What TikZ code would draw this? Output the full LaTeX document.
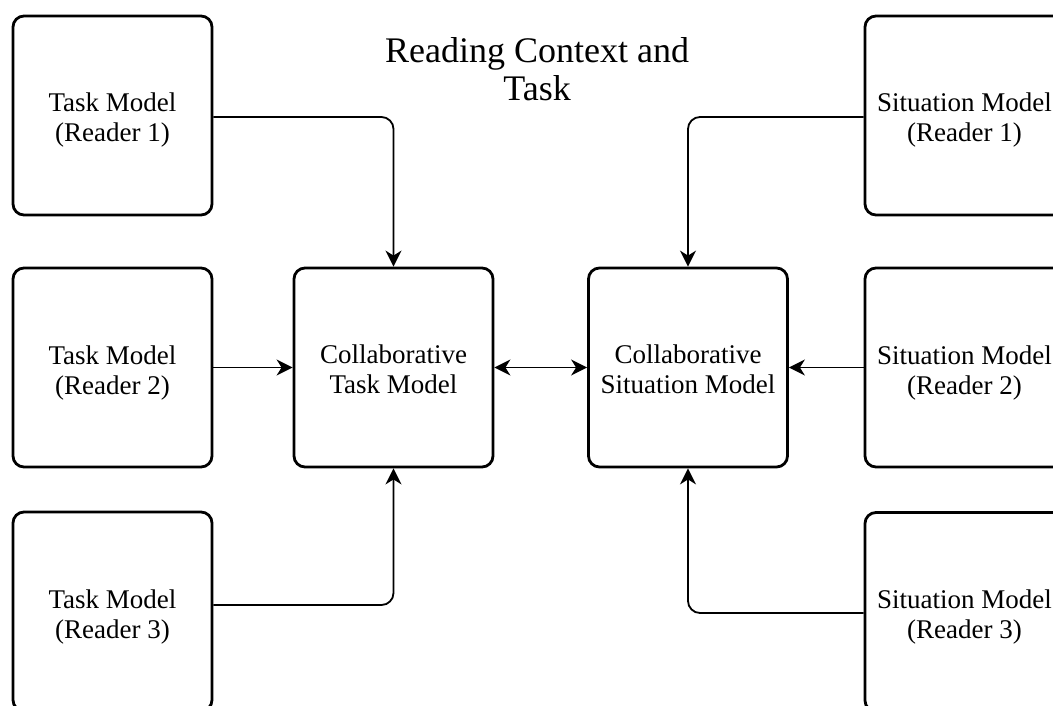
\documentclass[tikz,border=0pt]{standalone}
\usepackage{fontspec}
\setmainfont{Liberation Serif}
\usetikzlibrary{arrows.meta}
\begin{document}
\begin{tikzpicture}[x=1pt,y=-1pt,
  box/.style={draw, line width=2.8pt, rounded corners=11pt, minimum width=199pt, minimum height=199pt, inner sep=0pt},
  lab/.style={font=\fontsize{27}{30}\selectfont, align=center, inner sep=0pt},
  conn/.style={line width=1.8pt, rounded corners=12pt, -{Stealth[length=16pt,width=16pt,inset=5pt]}}]
\useasboundingbox (0,0) rectangle (1053,705);
\clip (0,0) rectangle (1053,705);
\node[box, label={[lab,yshift=-5pt]center:{Task Model\\(Reader 1)}}] (l1) at (112.5,115.5) {};
\node[box, label={[lab,yshift=-5pt]center:{Task Model\\(Reader 2)}}] (l2) at (112.5,367.5) {};
\node[box, label={[lab,yshift=-5pt]center:{Task Model\\(Reader 3)}}] (l3) at (112.5,611.5) {};
\node[box, label={[lab,yshift=-2pt]center:{Collaborative\\Task Model}}] (c1) at (393.5,367.5) {};
\node[box, label={[lab,yshift=-2pt]center:{Collaborative\\Situation Model}}] (c2) at (688,367.5) {};
\node[box, label={[lab,yshift=-5pt]center:{Situation Model\\(Reader 1)}}] (r1) at (964.5,115.5) {};
\node[box, label={[lab,yshift=-5pt]center:{Situation Model\\(Reader 2)}}] (r2) at (964.5,367.5) {};
\node[box, label={[lab,yshift=-5pt]center:{Situation Model\\(Reader 3)}}] (r3) at (964.5,612) {};
\node[font=\fontsize{36}{38}\selectfont, align=center] (title) at (537,69) {Reading Context and\\Task};
\draw[conn] ([yshift=-1.5pt]l1.east) -| (c1.north);
\draw[conn] (l2.east) -- (c1.west);
\draw[conn] ([yshift=6.5pt]l3.east) -| (c1.south);
\draw[line width=1.8pt, {Stealth[length=16pt,width=16pt,inset=5pt]}-{Stealth[length=16pt,width=16pt,inset=5pt]}] (c1.east) -- (c2.west);
\draw[conn] ([yshift=-1.5pt]r1.west) -| (c2.north);
\draw[conn] (r2.west) -- (c2.east);
\draw[conn] ([yshift=-1pt]r3.west) -| (c2.south);
\end{tikzpicture}
\end{document}
